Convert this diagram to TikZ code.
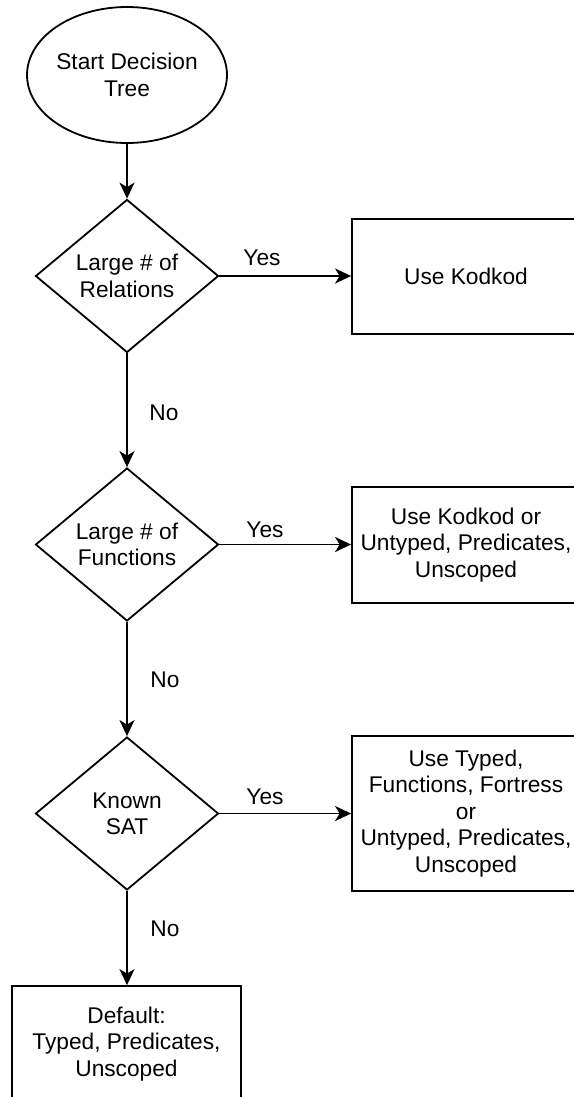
\documentclass[tikz,border=0pt]{standalone}
\usepackage{fontspec}
\setmainfont{Liberation Sans}
\usetikzlibrary{shapes.geometric,arrows.meta}
\begin{document}
\begin{tikzpicture}[x=1bp,y=-1bp,
  every node/.style={font=\fontsize{22.8}{26.5}\selectfont, align=center, inner sep=0pt},
  arr/.style={line width=1.8bp, -{Stealth[length=16bp,width=15bp,inset=4.5bp]}},
  dia/.style={diamond, draw, line width=1.8bp, minimum width=183bp, minimum height=153bp, shape aspect=1.2},
  box/.style={rectangle, draw, line width=1.8bp, minimum width=228bp},
  startnode/.style={ellipse, draw, line width=1.8bp, minimum width=192bp, minimum height=136bp},
  lbl/.style={}
]
\useasboundingbox (0,0) rectangle (574,1097);
\clip (0,0) rectangle (574,1097);
\fill[white] (0,0) rectangle (574,1097);

\node[startnode] (start) at (127,75) {Start Decision\\Tree};

\node[dia] (d1) at (127,276) {Large \# of\\Relations};
\node[dia] (d2) at (127,544.5) {Large \# of\\Functions};
\node[dia] (d3) at (127,813.5) {Known\\SAT};

\node[box, minimum height=115bp] (b1) at (466,276.5) {Use Kodkod};
\node[box, minimum height=116bp] (b2) at (466,545) {Use Kodkod or\\Untyped, Predicates,\\Unscoped};
\node[box, minimum height=155bp] (b3) at (466,813.5) {Use Typed,\\Functions, Fortress\\or\\Untyped, Predicates,\\Unscoped};
\node[box, minimum width=229bp, minimum height=116bp] (b4) at (126.5,1044) {Default:\\Typed, Predicates,\\Unscoped};

\draw[arr] (start.south -| d1.north) -- (d1.north);
\draw[arr] (d1.east) -- (d1.east -| b1.west);
\draw[arr] (d1.south) -- (d2.north);
\draw[arr] (d2.east) -- (d2.east -| b2.west);
\draw[arr] (d2.south) -- (d3.north);
\draw[arr] (d3.east) -- (d3.east -| b3.west);
\draw[arr] (d3.south) -- (d3.south |- b4.north);

\node[lbl] (y1) at (262,258) {Yes};
\node[lbl] (y2) at (265,530) {Yes};
\node[lbl] (y3) at (265,797) {Yes};
\node[lbl] (n1) at (164,413) {No};
\node[lbl] (n2) at (165,680) {No};
\node[lbl] (n3) at (165,929) {No};
\end{tikzpicture}
\end{document}
